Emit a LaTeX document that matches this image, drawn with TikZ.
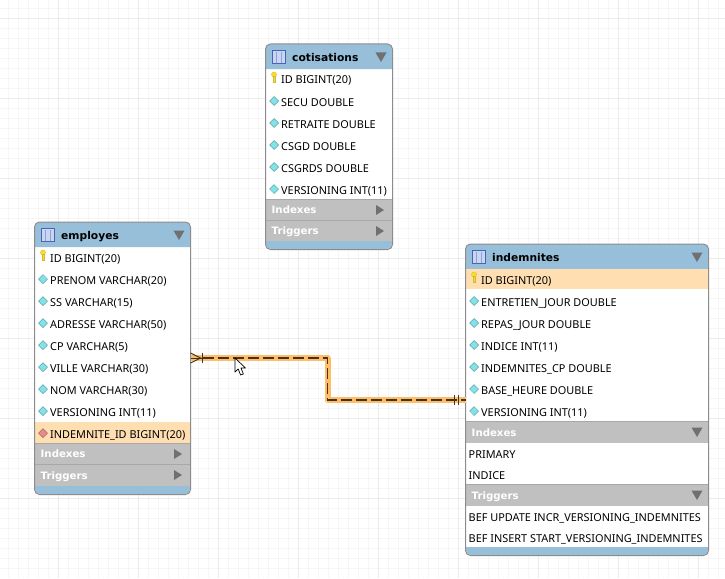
\documentclass[tikz,border=0pt]{standalone}
\usepackage{fontspec}
\setmainfont{Noto Sans}
\newfontfamily\boldfam{DejaVu Sans}
\definecolor{hdrblue}{HTML}{97BFDA}
\definecolor{secgray}{HTML}{C0C0C0}
\definecolor{secline}{HTML}{A8A8A8}
\definecolor{fkrow}{HTML}{FFDFB2}
\definecolor{frame}{HTML}{8C8C8C}
\definecolor{tri}{HTML}{707070}
\definecolor{glow}{HTML}{FFBE66}
\definecolor{wire}{HTML}{3F3425}
\definecolor{gridmaj}{HTML}{EBEBEB}
\definecolor{gridmin}{HTML}{F6F6F6}
\definecolor{keyc}{HTML}{F8DC30}
\definecolor{colc}{HTML}{7FE3E8}
\definecolor{fkc}{HTML}{E88A8A}
\definecolor{iconline}{HTML}{4A62B8}
\definecolor{iconfill}{HTML}{C9D6F2}
\tikzset{
  x=1pt,y=-1pt,
  coltext/.style={anchor=base west,inner sep=0pt,yshift=-4pt,font=\fontsize{10.9}{12}\selectfont,text=black},
  titletext/.style={anchor=base west,inner sep=0pt,yshift=-4.5pt,font=\boldfam\fontsize{10.7}{14}\selectfont\bfseries,text=black},
  sectext/.style={anchor=base west,inner sep=0pt,yshift=-4pt,font=\boldfam\fontsize{10.2}{12}\selectfont\bfseries,text=white},
  tableframe/.style={draw=frame,line width=1pt,rounded corners=5pt,inner sep=0pt,outer sep=0pt,anchor=north west},
  diamondicon/.style={draw=#1!60!black,line width=.35pt,fill=#1},
  tribox/.style={fill=tri},
}
\newcommand\tbl[8]{%
  \fill[white,rounded corners=5pt] (#1,#2) rectangle (#3,#4);
  \fill[hdrblue] (#1,#2+25) [rounded corners=5pt] -- (#1,#2) -- (#3,#2) [sharp corners] -- (#3,#2+25) -- cycle;
  \fill[hdrblue] (#1,#4-8) [rounded corners=5pt] -- (#1,#4) -- (#3,#4) [sharp corners] -- (#3,#4-8) -- cycle;
  \fill[iconfill] (#1+6.5,#2+6.5) rectangle (#1+19.5,#2+19.5);
  \draw[iconline,line width=.9pt] (#1+6.5,#2+6.5) rectangle (#1+19.5,#2+19.5);
  \draw[iconline!60!white,line width=.5pt] (#1+10.5,#2+8) -- (#1+10.5,#2+19) (#1+15,#2+8) -- (#1+15,#2+19);
  \node[titletext] (#7title) at (#1+26,#2+13) {#8};
}
\newcommand\keyicon[2]{%
  \fill[keyc,draw=keyc!85!black,line width=.3pt] (#1,#2-4.5) circle (2.6);
  \fill[keyc,draw=keyc!85!black,line width=.3pt] (#1-1.1,#2-3) rectangle (#1+1.1,#2+3.5);
}
\newcommand\dia[3]{%
  \fill[diamondicon=#3] (#1-4.5,#2-1) -- (#1,#2-5.5) -- (#1+4.5,#2-1) -- (#1,#2+3.5) -- cycle;
}
\newcommand\triright[2]{\fill[tribox] (#1-4,#2-5) -- (#1+4,#2) -- (#1-4,#2+5) -- cycle;}
\newcommand\tridown[2]{\fill[tribox] (#1-5.5,#2-4.5) -- (#1+5.5,#2-4.5) -- (#1,#2+5) -- cycle;}
\newcommand\secbar[6]{%
  \fill[secgray] (#1,#3) rectangle (#2,#4);
  \draw[secline,line width=.8pt] (#1,#3) -- (#2,#3);
  \node[sectext] (#5) at (#1+5.5,#3*0.5+#4*0.5) {#6};
}
\begin{document}
\begin{tikzpicture}
\useasboundingbox (0,0) rectangle (725,578);
\fill[white] (0,0) rectangle (725,578);
\foreach \i in {0,...,71} {\draw[gridmin,line width=1pt] (8.5+10*\i,0) -- (8.5+10*\i,578);}
\foreach \i in {0,...,56} {\draw[gridmin,line width=1pt] (0,8.5+10*\i) -- (725,8.5+10*\i);}
\foreach \i in {0,...,8} {\draw[gridmaj,line width=1.2pt] (58.5+80*\i,0) -- (58.5+80*\i,578);}
\foreach \i in {0,...,6} {\draw[gridmaj,line width=1.2pt] (0,18.5+80*\i) -- (725,18.5+80*\i);}

% cotisations
\tbl{266}{44}{392}{249}{126}{205}{cot}{cotisations}
\tridown{381}{57}
\keyicon{274}{79}
\node[coltext] (c1) at (281,80) {ID BIGINT(20)};
\foreach \yy/\nm/\tx in {102/c2/SECU DOUBLE,124/c3/RETRAITE DOUBLE,146/c4/CSGD DOUBLE,168/c5/CSGRDS DOUBLE,190/c6/VERSIONING INT(11)} {
  \dia{274}{\yy}{colc}
  \node[coltext] (\nm) at (281,\yy) {\tx};
}
\secbar{266}{392}{199.5}{220}{ci}{Indexes}
\triright{380}{210}
\secbar{266}{392}{220.5}{241}{ct}{Triggers}
\triright{380}{231}
\node[tableframe,minimum width=127pt,minimum height=205.5pt] (cotisations) at (265.5,44) {};

% employes
\tbl{35}{222}{190}{494}{155}{272}{emp}{employes}
\tridown{179}{235}
\keyicon{43}{257}
\node[coltext] (e1) at (50,258) {ID BIGINT(20)};
\foreach \yy/\nm/\tx in {280/e2/PRENOM VARCHAR(20),302/e3/SS VARCHAR(15),324/e4/ADRESSE VARCHAR(50),346/e5/CP VARCHAR(5),368/e6/VILLE VARCHAR(30),390/e7/NOM VARCHAR(30),412/e8/VERSIONING INT(11)} {
  \dia{43}{\yy}{colc}
  \node[coltext] (\nm) at (50,\yy) {\tx};
}
\fill[fkrow] (35,422) rectangle (190,443);
\dia{43}{434}{fkc}
\node[coltext] (e9) at (50,434) {INDEMNITE\_ID BIGINT(20)};
\secbar{35}{190}{443.5}{464}{ei}{Indexes}
\triright{178}{454}
\secbar{35}{190}{464.5}{485.5}{et}{Triggers}
\triright{178}{475}
\node[tableframe,minimum width=156pt,minimum height=272.5pt] (employes) at (34.5,222) {};

% indemnites
\tbl{466}{244}{708}{555}{242}{311}{ind}{indemnites}
\tridown{697}{257}
\fill[fkrow] (466,269) rectangle (708,289);
\keyicon{474}{279}
\node[coltext] (i1) at (481,280) {ID BIGINT(20)};
\foreach \yy/\nm/\tx in {302/i2/ENTRETIEN\_JOUR DOUBLE,324/i3/REPAS\_JOUR DOUBLE,346/i4/INDICE INT(11),368/i5/INDEMNITES\_CP DOUBLE,390/i6/BASE\_HEURE DOUBLE,412/i7/VERSIONING INT(11)} {
  \dia{474}{\yy}{colc}
  \node[coltext] (\nm) at (481,\yy) {\tx};
}
\secbar{466}{708}{421.5}{442.5}{ii}{Indexes}
\tridown{697}{432}
\node[coltext] (i8) at (468.5,454) {PRIMARY};
\node[coltext] (i9) at (468.5,475) {INDICE};
\secbar{466}{708}{484.5}{505.5}{it}{Triggers}
\tridown{697}{495}
\node[coltext] (i10) at (468.5,517) {BEF UPDATE INCR\_VERSIONING\_INDEMNITES};
\node[coltext] (i11) at (468.5,538) {BEF INSERT START\_VERSIONING\_INDEMNITES};
\node[tableframe,minimum width=243pt,minimum height=311.5pt] (indemnites) at (465.5,244) {};

% connector
\coordinate (portE) at (employes.north east |- 0,358);
\coordinate (portI) at (indemnites.north west |- 0,400);
\coordinate (bendA) at (327.5,358);
\coordinate (bendB) at (327.5,400);
\draw[glow,line width=6pt,line join=round] (portE) -- (bendA) -- (bendB) -- (portI);
\draw[wire,line width=1.7pt,dash pattern=on 11pt off 4pt] (portE) ++(12,0) -- (bendA) -- (bendB) -- (portI);
\draw[wire,line width=1pt] (portE) -- ++(12,0);
\draw[wire,line width=.9pt] (portE) ++(0,-5) -- ++(10,5) -- ++(-10,5);
\draw[wire,line width=1pt] (portE) ++(12,-5) -- ++(0,10);
\draw[wire,line width=1pt] (portI) ++(-11,-5) -- ++(0,10);
\draw[wire,line width=1pt] (portI) ++(-7.5,-5) -- ++(0,10);

% mouse pointer
\filldraw[fill=white,draw=black,line width=.7pt,line join=round]
  (235,358) -- (235,372) -- (238.2,369) -- (240.6,375) -- (243.4,374) -- (241,368) -- (245.5,368) -- cycle;
\end{tikzpicture}
\end{document}
